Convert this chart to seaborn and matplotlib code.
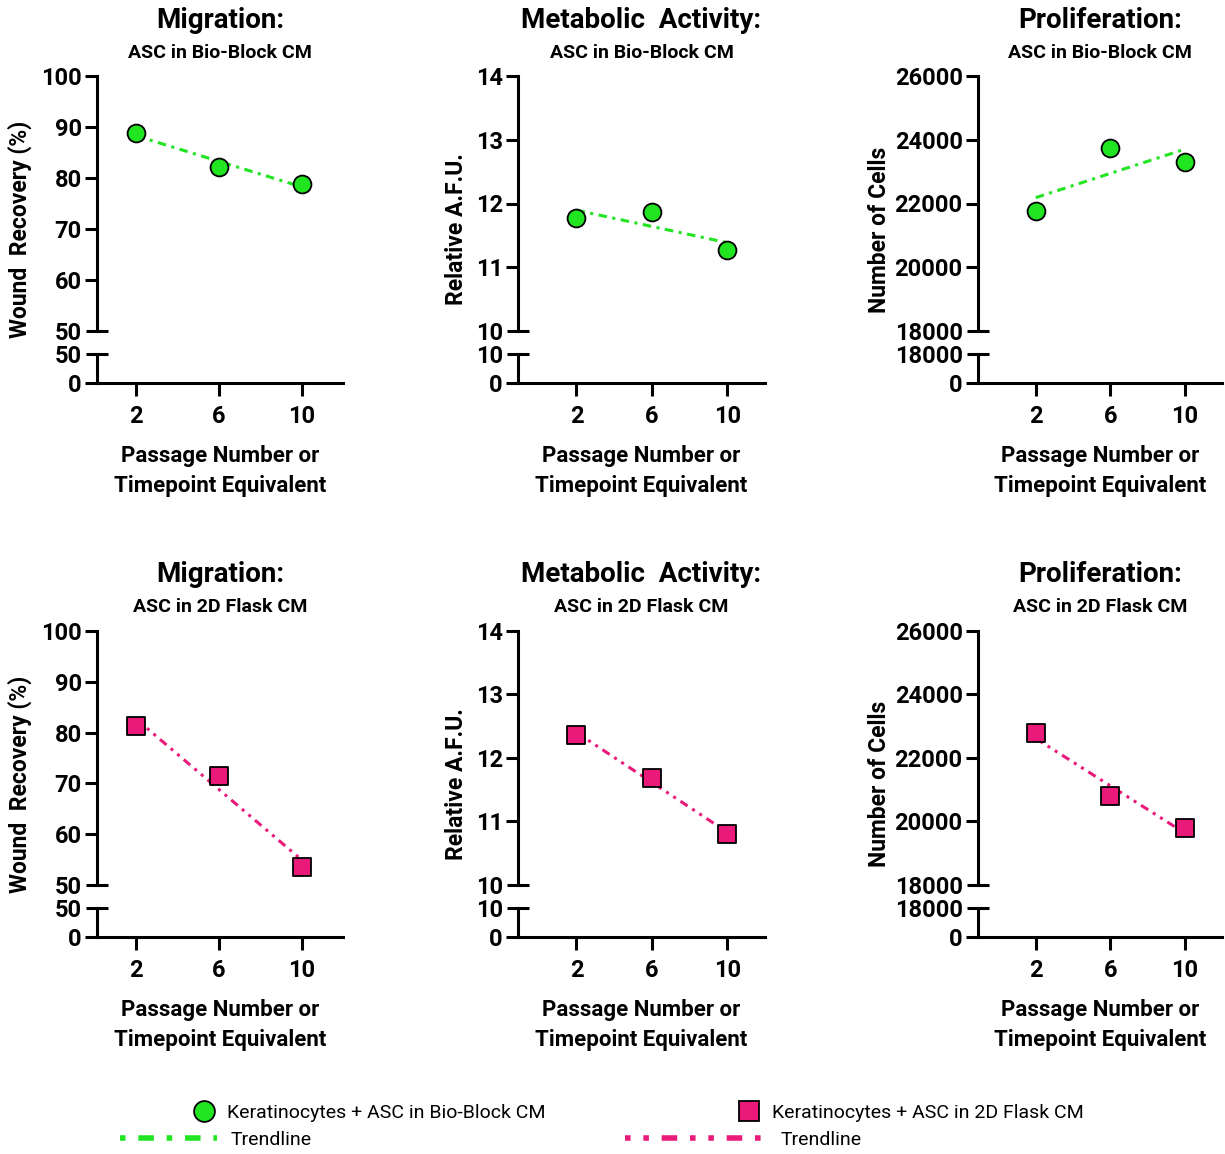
"""
Bio-Block vs 2D flask conditioned media: migration, metabolic activity and
proliferation of keratinocytes over passages, with linear trendlines.
"""

import numpy as np
import pandas as pd
import matplotlib.pyplot as plt
import seaborn as sns
from matplotlib import font_manager
from matplotlib.lines import Line2D

# --- data -------------------------------------------------------------------
passage = [2, 6, 10]

migration_bb = [88.8, 82.2, 78.8]
metabolic_bb = [11.78, 11.87, 11.27]
prolif_bb = [21780, 23750, 23300]

migration_2d = [81.3, 71.5, 53.6]
metabolic_2d = [12.37, 11.68, 10.80]
prolif_2d = [22780, 20800, 19800]

titles = ["Migration:", "Metabolic  Activity:", "Proliferation:"]
subtitles = ["ASC in Bio-Block CM", "ASC in 2D Flask CM"]
ylabels = ["Wound  Recovery (%)", "Relative A.F.U.", "Number of Cells"]
xlabel = "Passage Number or\nTimepoint Equivalent"
legend_labels = ["Keratinocytes + ASC in Bio-Block CM", "Keratinocytes + ASC in 2D Flask CM"]

# axis ranges: (low, high, step) of the upper part, top of the small lower part
y_upper = [(50, 100, 10), (10, 14, 1), (18000, 26000, 2000)]
y_lower_top = [50, 10, 18000]

GREEN = "#22e522"
PINK = "#ea1a7a"
DASH_GREEN = (2.8, 1.8, 1.0, 1.8)
DASH_PINK = (2.8, 1.8, 1.0, 1.8, 1.0, 1.8)
# legend lines start with a dot
LEG_GREEN = (1.0, 2.3, 2.8, 2.3)
LEG_PINK = (1.0, 2.3, 1.0, 2.3, 2.8, 2.3)

sns.set_theme(style="ticks")
names = {f.name for f in font_manager.fontManager.ttflist}
FONT = "Liberation Sans Narrow" if "Liberation Sans Narrow" in names else "Roboto"
plt.rcParams["font.family"] = [FONT, "DejaVu Sans"]
plt.rcParams.update({
    "font.weight": "bold",
    "axes.linewidth": 2.2,
    "text.color": "black",
    "axes.labelcolor": "black",
    "axes.edgecolor": "black",
    "xtick.color": "black",
    "ytick.color": "black",
})

W, H = 1225, 1154
fig = plt.figure(figsize=(W / 100, H / 100), dpi=100)


def box(l, r, t, b):
    return [l / W, 1 - b / H, (r - l) / W, (b - t) / H]


cols = [(97, 343, (0.1, 12)), (518, 765, (-1.1, 12)), (978, 1222, (-1.1, 12))]
rows = [
    dict(up=(76, 331), low=(354, 383), title_y=20, sub_y=53,
         data=[migration_bb, metabolic_bb, prolif_bb], color=GREEN, marker="o", s=165, dashes=DASH_GREEN),
    dict(up=(631, 885), low=(908, 937), title_y=575, sub_y=607,
         data=[migration_2d, metabolic_2d, prolif_2d], color=PINK, marker="s", s=150, dashes=DASH_PINK),
]

for ri, row in enumerate(rows):
    for ci, (L, R, xlim) in enumerate(cols):
        lo, hi, step = y_upper[ci]
        df = pd.DataFrame({"passage": passage, "value": row["data"][ci]})

        ax = fig.add_axes(box(L, R, *row["up"]))
        sns.regplot(data=df, x="passage", y="value", scatter=False, ci=None, ax=ax,
                    color=row["color"], truncate=True,
                    line_kws=dict(lw=2.2, dashes=row["dashes"], zorder=2))
        sns.scatterplot(data=df, x="passage", y="value", ax=ax, marker=row["marker"],
                        s=row["s"], color=row["color"], edgecolor="black", linewidth=1.3,
                        zorder=3, legend=False, clip_on=False)
        ax.set_xlim(*xlim)
        ax.set_ylim(lo, hi)
        ax.set_xticks([])
        ax.set_xlabel("")
        ax.set_ylabel("")
        for s in ["top", "right", "bottom"]:
            ax.spines[s].set_visible(False)
        major = list(range(lo + step, hi + step, step))
        ax.set_yticks(major, labels=[str(v) for v in major])
        ax.set_yticks([lo], labels=[str(lo)], minor=True)
        ax.tick_params(axis="y", which="major", direction="out", length=9, width=2.2,
                       labelsize=17, pad=2)
        ax.tick_params(axis="y", which="minor", direction="inout", length=16, width=2.2,
                       labelsize=17, pad=3)

        axl = fig.add_axes(box(L, R, *row["low"]))
        top = y_lower_top[ci]
        axl.set_xlim(*xlim)
        axl.set_ylim(0, top)
        for s in ["top", "right"]:
            axl.spines[s].set_visible(False)
        axl.set_yticks([0], labels=["0"])
        axl.set_yticks([top], labels=[str(top)], minor=True)
        axl.tick_params(axis="y", which="major", direction="out", length=9, width=2.2,
                        labelsize=17, pad=2)
        axl.tick_params(axis="y", which="minor", direction="inout", length=16, width=2.2,
                        labelsize=17, pad=3)
        axl.set_xticks(passage, labels=[str(p) for p in passage])
        axl.tick_params(axis="x", direction="out", length=9, width=2.2, labelsize=17, pad=7)
        axl.set_xlabel(xlabel, fontsize=16, fontweight="bold", labelpad=12, linespacing=1.45)

        cx = (L + R) / 2 / W
        fig.text(cx, 1 - row["title_y"] / H, titles[ci], ha="center", va="center",
                 fontsize=20, fontweight="bold")
        fig.text(cx, 1 - row["sub_y"] / H, subtitles[ri], ha="center", va="center",
                 fontsize=14, fontweight="bold")
        ylab_x = [20, 457, 880][ci]
        ylab_y = (row["up"][0] + row["low"][1]) / 2
        fig.text(ylab_x / W, 1 - ylab_y / H, ylabels[ci], rotation=90, ha="center",
                 va="center", fontsize=16.5, fontweight="bold")

# --- legend -----------------------------------------------------------------
leg_kw = dict(frameon=False, loc="center left", borderpad=0, borderaxespad=0,
              prop={"weight": "normal", "size": 14})

for color, marker, ms, dashes, label, mx, lx0, hl in [
    (GREEN, "o", 15, LEG_GREEN, legend_labels[0], 192, 120, 5.0),
    (PINK, "s", 14, LEG_PINK, legend_labels[1], 737, 625, 7.3),
]:
    h_pt = Line2D([], [], ls="none", marker=marker, markersize=ms, markerfacecolor=color,
                  markeredgecolor="black", markeredgewidth=1.3)
    fig.legend(handles=[h_pt], labels=[label], handlelength=1.2, handletextpad=0.6,
               bbox_to_anchor=(mx / W, 1 - 1113 / H), **leg_kw)
    h_ln = Line2D([], [], color=color, lw=4, dashes=dashes)
    fig.legend(handles=[h_ln], labels=["Trendline"], handlelength=hl, handletextpad=0.7,
               bbox_to_anchor=(lx0 / W, 1 - 1140 / H), **leg_kw)

fig.savefig("out.png", dpi=100)
